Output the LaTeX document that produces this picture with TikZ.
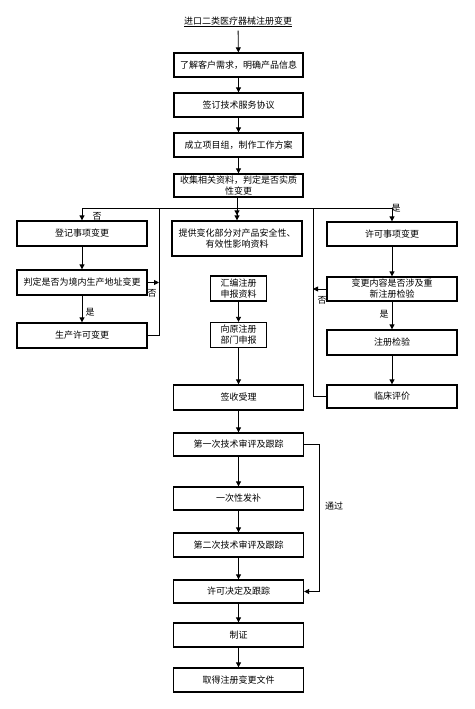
\documentclass[tikz,border=0pt]{standalone}
\usepackage{fontspec}
\newfontfamily\cjk{Noto Sans CJK SC}
\usetikzlibrary{arrows.meta}
\begin{document}
\begin{tikzpicture}[x=1pt,y=-1pt,
  every node/.style={font=\cjk\fontsize{9}{11}\selectfont},
  box/.style={draw, line width=1.3pt, rectangle, minimum width=129pt, minimum height=24pt, inner sep=1pt, align=center},
  sbox/.style={box, minimum width=56pt, minimum height=25pt},
  conn/.style={line width=0.8pt},
  arr/.style={conn, -{Triangle[length=5pt,width=5pt]}},
  darr/.style={conn, -{Triangle[length=5pt,width=5pt]Triangle[length=5pt,width=5pt]}},
  lbl/.style={inner sep=0pt}]
\useasboundingbox (0,0) rectangle (474,709);
% main column
\node (title) at (238,22) {\underline{进口二类医疗器械注册变更}};
\node[box] (b1) at (238.5,65) {了解客户需求，明确产品信息};
\node[box] (b2) at (238.5,105) {签订技术服务协议};
\node[box] (b3) at (238.5,145) {成立项目组，制作工作方案};
\node[box, minimum height=23pt] (b4) at (238.5,185.5) {收集相关资料，判定是否实质\\性变更};
% left column
\node[box, minimum width=130pt, minimum height=25pt] (l1) at (82,233.5) {登记事项变更};
\node[box, minimum width=130pt, minimum height=25pt] (l2) at (82,282.5) {判定是否为境内生产地址变更};
\node[box, minimum width=130pt, minimum height=25pt] (l3) at (82,335.5) {生产许可变更};
% center column
\node[box, minimum width=130pt, minimum height=35pt] (c1) at (237,238.5) {提供变化部分对产品安全性、\\有效性影响资料};
\node[sbox] (c2) at (238.5,288.5) {汇编注册\\申报资料};
\node[sbox] (c3) at (238.5,335) {向原注册\\部门申报};
\node[box, minimum width=130pt, minimum height=25pt] (c4) at (238.5,397.5) {签收受理};
% right column
\node[box, minimum width=130pt] (r1) at (392,234) {许可事项变更};
\node[box, minimum width=130pt] (r2) at (392,289) {变更内容是否涉及重\\新注册检验};
\node[box, minimum width=130pt, minimum height=25pt] (r3) at (392,342.5) {注册检验};
\node[box, minimum width=130pt, minimum height=23pt] (r4) at (392,396.5) {临床评价};
% lower column
\node[box, minimum width=130pt, minimum height=23pt] (d1) at (238.5,444.5) {第一次技术审评及跟踪};
\node[box, minimum width=130pt, minimum height=23pt] (d2) at (238.5,498.5) {一次性发补};
\node[box, minimum width=130pt] (d3) at (238.5,545) {第二次技术审评及跟踪};
\node[box, minimum width=130pt, minimum height=23pt] (d4) at (238.5,591.5) {许可决定及跟踪};
\node[box, minimum width=130pt] (d5) at (238.5,635) {制证};
\node[box, minimum width=130pt] (d6) at (238.5,680) {取得注册变更文件};
% coordinates
\coordinate (hl) at (82,208);
\coordinate (hr) at (392,208);
\coordinate (hc) at (238.5,208);
\coordinate (vL) at (159,208);
\coordinate (vR) at (313,208);
\coordinate (pass) at (319,444.5);
% connectors
\draw[arr] (title) -- (b1);
\draw[arr] (b1) -- (b2);
\draw[arr] (b2) -- (b3);
\draw[arr] (b3) -- (b4);
\draw[darr] (b4.south -| c1.north) -- (c1.north);
\draw[conn] (hl) -- (hr);
\draw[arr] (hl) -- (l1.north);
\draw[arr] (hr) -- (r1.north);
\draw[arr] (l1) -- (l2);
\draw[arr] (l2) -- (l3);
\draw[arr] (l2.east) -- (l2.east -| vL);
\draw[conn] (l3.east) -- (l3.east -| vL) -- (vL);
\draw[arr] (c2) -- (c3);
\draw[arr] (c3) -- (c4);
\draw[arr] (r1) -- (r2);
\draw[arr] (r2) -- (r3);
\draw[arr] (r3) -- (r4);
\draw[arr] (r2.west) -- (r2.west -| vR);
\draw[conn] (r4.west) -- (r4.west -| vR) -- (vR);
\draw[arr] (c4) -- (d1);
\draw[arr] (d1) -- (d2);
\draw[arr] (d2) -- (d3);
\draw[arr] (d3) -- (d4);
\draw[arr] (d4) -- (d5);
\draw[arr] (d5) -- (d6);
\draw[arr] (d1.east) -- (pass) |- (d4.east);
% labels
\node[lbl] at (97,216) {否};
\node[lbl] at (396,208) {是};
\node[lbl] at (152,293) {否};
\node[lbl] at (90,312) {是};
\node[lbl] at (384,314) {是};
\node[lbl] at (322,300) {否};
\node[lbl] at (334,506) {通过};
\end{tikzpicture}
\end{document}
